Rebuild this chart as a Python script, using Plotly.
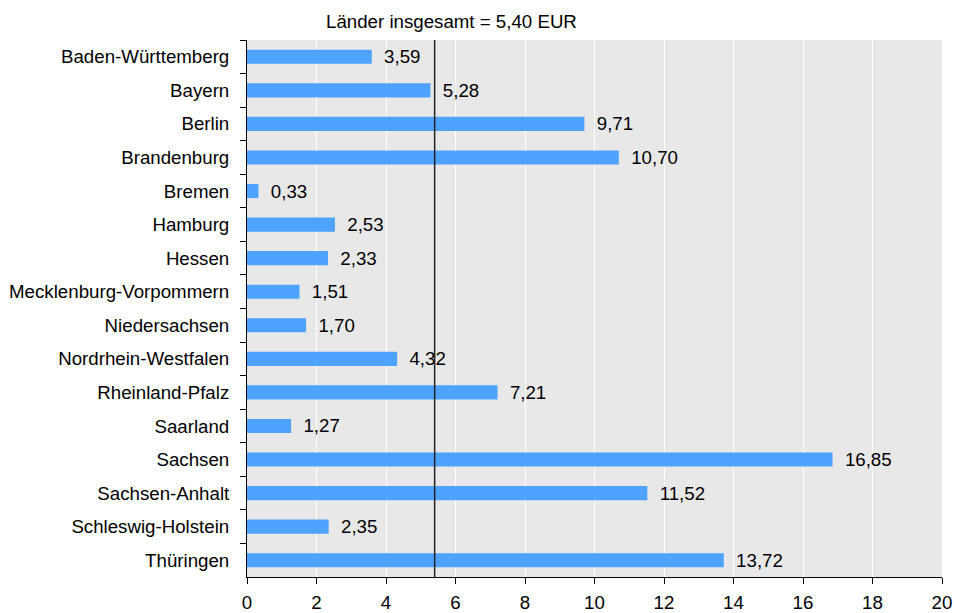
import plotly.graph_objects as go

laender = ["Baden-Württemberg", "Bayern", "Berlin", "Brandenburg", "Bremen", "Hamburg",
           "Hessen", "Mecklenburg-Vorpommern", "Niedersachsen", "Nordrhein-Westfalen",
           "Rheinland-Pfalz", "Saarland", "Sachsen", "Sachsen-Anhalt",
           "Schleswig-Holstein", "Thüringen"]
werte = [3.59, 5.28, 9.71, 10.70, 0.33, 2.53, 2.33, 1.51, 1.70, 4.32,
         7.21, 1.27, 16.85, 11.52, 2.35, 13.72]
durchschnitt = 5.40
x_ticks = [0, 2, 4, 6, 8, 10, 12, 14, 16, 18, 20]

FONT = "Liberation Sans"
FS = 18.7
fig = go.Figure()
fig.add_trace(go.Bar(
    y=laender, x=werte, orientation="h",
    marker=dict(color="#4DA3FF", line=dict(width=0)),
    width=0.42,
    text=werte, texttemplate="\u2002%{x:.2f}", textposition="outside",
    constraintext="none",
    textfont=dict(family=FONT, size=FS, color="#000000"), cliponaxis=False,
))
fig.add_shape(type="line", x0=durchschnitt, x1=durchschnitt, y0=0, y1=1,
              xref="x", yref="paper", line=dict(color="#222222", width=1.5), layer="above")
fig.add_annotation(x=durchschnitt, y=1, xref="x", yref="paper", yanchor="bottom",
                   xshift=17, yshift=6, showarrow=False,
                   text="Länder insgesamt = 5,40 EUR", font=dict(family=FONT, size=FS, color="#000000"))

fig.update_layout(
    width=954, height=613,
    margin=dict(l=247, r=12, t=40, b=36, autoexpand=False),
    plot_bgcolor="#E8E8E8", paper_bgcolor="#FFFFFF",
    font=dict(family=FONT, size=FS, color="#000000"),
    separators=",.",
    showlegend=False,
)
fig.update_xaxes(range=[0, 20], tickvals=x_ticks, showgrid=True, gridcolor="#FFFFFF", gridwidth=1,
                 showline=True, linecolor="#000000", linewidth=1, ticks="outside", ticklen=6,
                 tickcolor="#000000", zeroline=False, automargin=False,
                 tickfont=dict(family=FONT, size=FS), ticklabelstandoff=3)
fig.update_yaxes(autorange="reversed", categoryorder="array", categoryarray=laender,
                 showline=True, linecolor="#000000", linewidth=1, ticks="outside", ticklen=6,
                 tickcolor="#000000", tickson="boundaries", showgrid=False, automargin=False,
                 ticklabelstandoff=13, tickfont=dict(family=FONT, size=FS))

fig.write_html("out.html", config={"displayModeBar": False},
               post_script="document.body.style.margin='0';document.body.style.overflow='hidden';")
